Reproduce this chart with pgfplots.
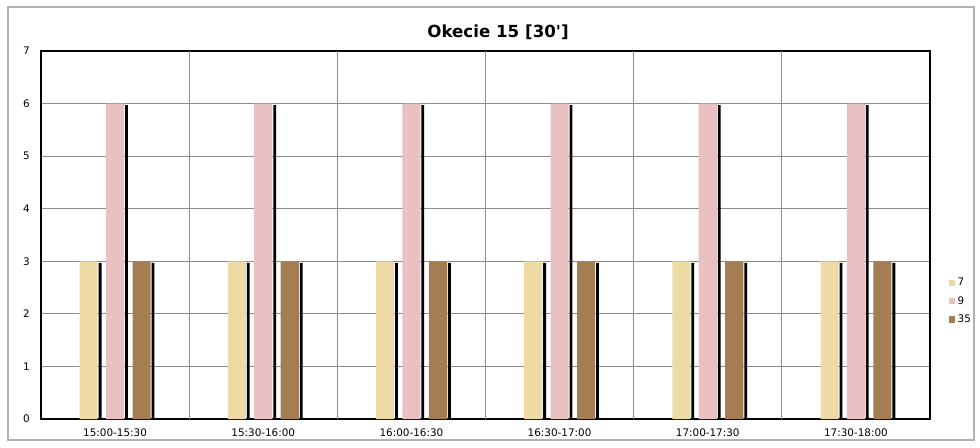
\documentclass[border=0pt]{standalone}
\usepackage{fontspec}
\setmainfont{DejaVu Sans}
\usepackage{pgfplots}
\pgfplotsset{compat=1.18}

\definecolor{barYel}{HTML}{EDDAA4}
\definecolor{barPink}{HTML}{E9C1C2}
\definecolor{barBrown}{HTML}{A47D52}
\definecolor{gridGray}{HTML}{8C8C8C}

\begin{document}
\begin{tikzpicture}
  % page frame (980 x 447 px, 1px = 0.75pt)
  \path (0pt,0pt) rectangle (735pt,335.25pt);
  \draw[gray!60, line width=1.2pt] (6pt,5.25pt) rectangle (730.5pt,330pt);
  \node[font=\bfseries\fontsize{12.5}{15}\selectfont] at (373.5pt,311pt) {Okecie 15 [30\textquotesingle]};

\begin{axis}[
  at={(30.75pt,21pt)}, anchor=south west,
  scale only axis,
  width=666.75pt, height=276pt,
  xmin=-0.5, xmax=5.5,
  ymin=0, ymax=7,
  ytick={0,1,...,7},
  xtick={0,...,5},
  xticklabels={15:00-15:30,15:30-16:00,16:00-16:30,16:30-17:00,17:00-17:30,17:30-18:00},
  extra x ticks={0.5,1.5,2.5,3.5,4.5},
  extra x tick labels={},
  extra x tick style={grid=major},
  ymajorgrids,
  grid style={gridGray, line width=0.9pt},
  axis line style={black, line width=1.4pt},
  major tick length=0pt,
  /pgf/number format/assume math mode=true,
  ticklabel style={font=\fontsize{7.8}{9}\selectfont},
  yticklabel style={xshift=-5pt},
  xticklabel style={yshift=-4pt},
  bar width=0.122,
  legend style={at={(1.021,0.32)}, anchor=west, draw=none, fill=none,
    font=\fontsize{7.8}{9}\selectfont, row sep=2.5pt, inner sep=0pt},
  legend cell align=left,
  legend image code/.code={\fill[#1] (0pt,-2.3pt) rectangle (4.6pt,2.3pt);},
]
  % shadows
  \addplot[ybar, bar shift=-0.101, bar width=0.019, fill=black, draw=none, forget plot]
    coordinates {(0,2.97) (1,2.97) (2,2.97) (3,2.97) (4,2.97) (5,2.97)};
  \addplot[ybar, bar shift=0.077, bar width=0.019, fill=black, draw=none, forget plot]
    coordinates {(0,5.97) (1,5.97) (2,5.97) (3,5.97) (4,5.97) (5,5.97)};
  \addplot[ybar, bar shift=0.256, bar width=0.019, fill=black, draw=none, forget plot]
    coordinates {(0,2.97) (1,2.97) (2,2.97) (3,2.97) (4,2.97) (5,2.97)};

  % bars
  \addplot[ybar, bar shift=-0.178, fill=barYel, draw=none]
    coordinates {(0,3) (1,3) (2,3) (3,3) (4,3) (5,3)};
  \addlegendentry{7}
  \addplot[ybar, bar shift=0, fill=barPink, draw=none]
    coordinates {(0,6) (1,6) (2,6) (3,6) (4,6) (5,6)};
  \addlegendentry{9}
  \addplot[ybar, bar shift=0.179, fill=barBrown, draw=none]
    coordinates {(0,3) (1,3) (2,3) (3,3) (4,3) (5,3)};
  \addlegendentry{35}
\end{axis}
\end{tikzpicture}
\end{document}
